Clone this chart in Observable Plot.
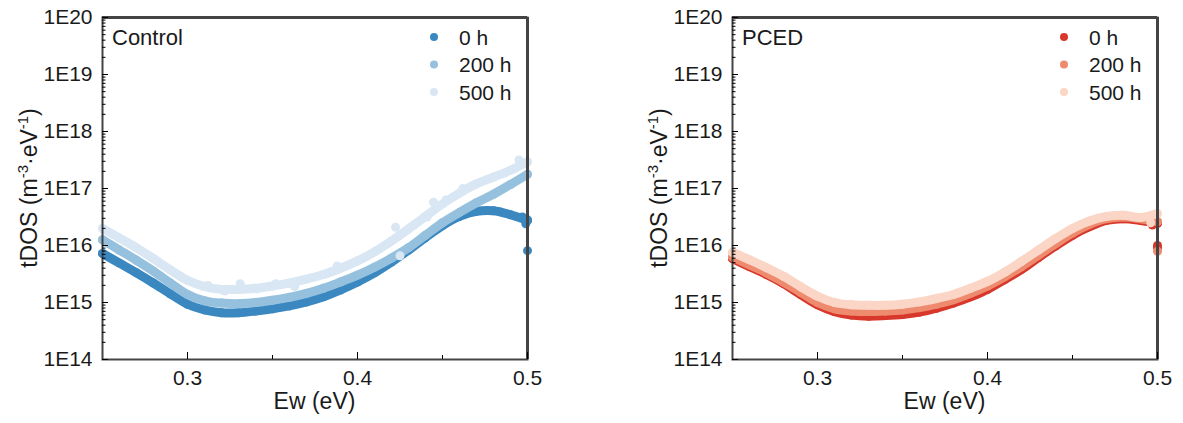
<!DOCTYPE html>
<html><head><meta charset="utf-8">
<script src="https://cdn.jsdelivr.net/npm/d3@7"></script>
<script src="https://cdn.jsdelivr.net/npm/@observablehq/plot@0.6"></script>
<style>
html,body{margin:0;padding:0;background:#fff;}
#wrap{position:relative;width:1183px;height:423px;overflow:hidden;background:#fff;}
#wrap > div{position:absolute;top:0;}
</style></head>
<body><div id="wrap"><div id="p1" style="left:0px"></div><div id="p2" style="left:630px"></div></div>
<script>
// ---- data (tDOS stored as log10 values) ----
const energy = [0.25,0.26,0.27,0.28,0.29,0.30,0.31,0.32,0.33,0.34,0.35,0.36,0.37,0.38,0.39,0.40,0.41,0.42,0.43,0.44,0.45,0.46,0.47,0.48,0.49,0.50];
const seriesNames = ["0 h","200 h","500 h"];

const control0h   = [15.86,15.69,15.52,15.34,15.15,14.97,14.87,14.82,14.82,14.85,14.89,14.94,15.01,15.10,15.22,15.36,15.52,15.71,15.92,16.14,16.35,16.51,16.60,16.61,16.54,16.44];
const control200h = [16.10,15.92,15.74,15.55,15.34,15.14,15.03,14.99,14.98,15.00,15.04,15.09,15.16,15.25,15.36,15.48,15.62,15.78,15.96,16.18,16.40,16.58,16.75,16.90,17.07,17.25];
const control500h = [16.30,16.13,15.96,15.77,15.57,15.39,15.28,15.23,15.23,15.25,15.29,15.34,15.41,15.49,15.60,15.73,15.89,16.08,16.29,16.51,16.73,16.92,17.08,17.20,17.32,17.47];
const control0hEdgeE = [0.497,0.499,0.500,0.500];
const control0hEdgeV = [16.50,16.38,16.45,15.91];
const control500hScatterE = [0.312,0.322,0.331,0.341,0.352,0.363,0.388,0.4224,0.425,0.433,0.441,0.4447,0.452,0.462,0.495];
const control500hScatterV = [15.30,15.20,15.33,15.24,15.33,15.28,15.64,16.32,15.82,16.36,16.50,16.76,16.80,17.00,17.50];

const pced0h   = [15.77,15.63,15.49,15.33,15.14,14.96,14.84,14.78,14.76,14.77,14.79,14.83,14.90,14.99,15.10,15.23,15.40,15.58,15.79,15.99,16.18,16.33,16.44,16.47,16.44,16.39];
const pced200h = [15.80,15.66,15.52,15.36,15.18,15.00,14.89,14.85,14.84,14.85,14.87,14.91,14.97,15.05,15.16,15.29,15.45,15.63,15.83,16.03,16.22,16.37,16.47,16.50,16.47,16.42];
const pced500h = [15.88,15.75,15.61,15.46,15.28,15.11,15.00,14.96,14.95,14.95,14.97,15.01,15.07,15.14,15.25,15.37,15.53,15.72,15.92,16.12,16.30,16.43,16.51,16.53,16.49,16.56];
const pced0hEdgeE = [0.497,0.500,0.500];
const pced0hEdgeV = [16.36,15.96,16.00];
const pced200hEdgeE = [0.500];
const pced200hEdgeV = [15.90];
const pced500hEdgeE = [0.496];
const pced500hEdgeV = [16.40];

const xTicks = [0.3,0.4,0.5];
const xMinorTicks = [0.35,0.45];
const xDomain = [0.25,0.5];
const yTicks = [1e14,1e15,1e16,1e17,1e18,1e19,1e20];
const yTickLabels = ["1E14","1E15","1E16","1E17","1E18","1E19","1E20"];
const yDomain = [1e14,1e20];
const yMinorTicks = yTicks.slice(0,-1).flatMap(d => [2,3,4,5,6,7,8,9].map(k => d*k));

const controlColors = ["#3b88c1","#95c1de","#d9e7f4"];
const pcedColors    = ["#d8372b","#ee8b6e","#fbd5c5"];

function rows(es, vs, s) { return es.map((e,i) => ({e, v: Math.pow(10, vs[i]), s})); }

function panel(el, name, mainSeries, extraSeries, colors) {
  const marks = [];
  mainSeries.forEach((vals, i) => {
    const main = rows(energy, vals, seriesNames[i]);
    const extra = extraSeries[i] ? rows(extraSeries[i][0], extraSeries[i][1], seriesNames[i]) : [];
    marks.push(Plot.line(main, {x:"e", y:"v", stroke: colors[i], strokeWidth: 9, curve: "catmull-rom"}));
    marks.push(Plot.dot(main.concat(extra), {x:"e", y:"v", fill: colors[i], r: 4.5}));
  });
  const chart = Plot.plot({
    width: 553, height: 423,
    marginLeft: 102, marginRight: 26, marginTop: 17, marginBottom: 64,
    style: {fontFamily: "Arial, 'Liberation Sans', sans-serif", fontSize: "21px"},
    x: {domain: xDomain, label: null},
    y: {type: "log", domain: yDomain, label: null},
    marks: [
      ...marks,
      Plot.ruleY([yDomain[1]], {stroke: "#444", strokeWidth: 3}),
      Plot.ruleX([xDomain[1]], {stroke: "#444", strokeWidth: 3}),
      Plot.frame({stroke: "#444", strokeWidth: 2}),
      Plot.axisX(xTicks, {tickSize: -7, tickFormat: () => ""}),
      Plot.axisX(xMinorTicks, {tickSize: -4, tickFormat: () => ""}),
      Plot.axisX(xTicks, {tickSize: 0, tickPadding: 11, tickFormat: d3.format(".1f")}),
      Plot.axisY(yTicks, {tickSize: -6, tickFormat: () => ""}),
      Plot.axisY(yMinorTicks, {tickSize: -3.5, tickFormat: () => ""}),
      Plot.axisY(yTicks, {tickSize: 0, tickPadding: 10, tickFormat: d => yTickLabels[yTicks.indexOf(d)]})
    ]
  });
  el.appendChild(chart);
  const svg = d3.select(chart);
  svg.selectAll("g[aria-label$='tick label']").attr("font-size", 21).attr("fill", "#1a1a1a");
  const sx = chart.scale("x"), sy = chart.scale("y");
  const x0 = sx.apply(xDomain[0]), x1 = sx.apply(xDomain[1]);
  const y0 = sy.apply(yDomain[1]), y1 = sy.apply(yDomain[0]);
  const ff = "Arial, 'Liberation Sans', sans-serif";
  svg.append("text").attr("x", (x0 + x1) / 2).attr("y", 409).attr("text-anchor","middle")
    .attr("font-size", 23).attr("font-family", ff).attr("fill","#1a1a1a").text("Ew (eV)");
  const yt = svg.append("text").attr("transform",`translate(37,${(y0 + y1) / 2}) rotate(-90)`)
    .attr("text-anchor","middle").attr("font-size",23).attr("font-family", ff).attr("fill","#1a1a1a");
  yt.append("tspan").text("tDOS (m");
  yt.append("tspan").attr("dy",-9).attr("font-size",15).text("-3");
  yt.append("tspan").attr("dy",9).text("\u00B7eV");
  yt.append("tspan").attr("dy",-9).attr("font-size",15).text("-1");
  yt.append("tspan").attr("dy",9).text(")");
  svg.append("text").attr("x", 112).attr("y", 45).attr("text-anchor","start").attr("font-size", 22)
    .attr("font-family", ff).attr("fill","#1a1a1a").text(name);
  seriesNames.forEach((s, i) => {
    const cy = 37 + i * 27.5;
    svg.append("circle").attr("cx", 434).attr("cy", cy).attr("r", 4).attr("fill", colors[i]);
    svg.append("text").attr("x", 459).attr("y", cy + 7.5).attr("text-anchor","start").attr("font-size", 21)
      .attr("font-family", ff).attr("fill","#1a1a1a").text(s);
  });
}

panel(document.getElementById("p1"), "Control",
  [control0h, control200h, control500h],
  [[control0hEdgeE, control0hEdgeV], null, [control500hScatterE, control500hScatterV]],
  controlColors);
panel(document.getElementById("p2"), "PCED",
  [pced0h, pced200h, pced500h],
  [[pced0hEdgeE, pced0hEdgeV], [pced200hEdgeE, pced200hEdgeV], [pced500hEdgeE, pced500hEdgeV]],
  pcedColors);
</script>
</body></html>
